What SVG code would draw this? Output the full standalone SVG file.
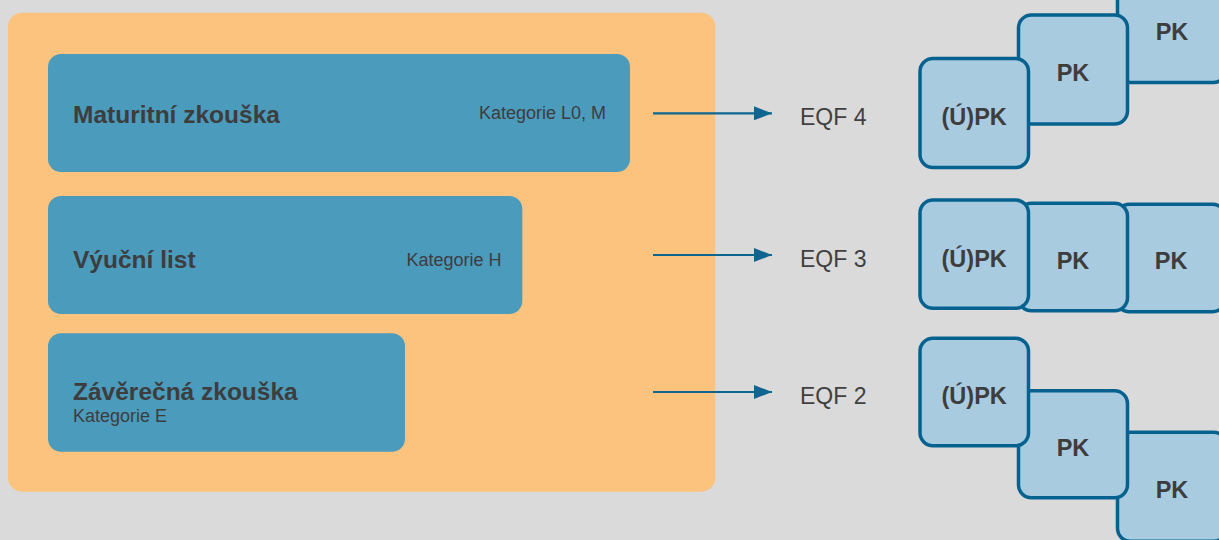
<svg xmlns="http://www.w3.org/2000/svg" width="1219" height="540" viewBox="0 0 1219 540">
<defs>
<style>
.title{font-family:"Liberation Sans",Arial,sans-serif;font-weight:bold;font-size:24.5px;fill:#3d3d3d}
.kat{font-family:"Liberation Sans",Arial,sans-serif;font-size:18px;fill:#3d3d3d}
.eqf{font-family:"Liberation Sans",Arial,sans-serif;font-size:23px;fill:#404040}
.pk{font-family:"Liberation Sans",Arial,sans-serif;font-weight:bold;font-size:23.5px;fill:#3d3d3d;text-anchor:middle}
.box{fill:#4b9bbd}
.pkbox{fill:#a9cbe0;stroke:#05628f;stroke-width:3.5}
.conn{stroke:#0d6690;stroke-width:2.2;fill:none}
</style>
<marker id="ah" viewBox="0 0 18 14" refX="18" refY="7" markerWidth="18" markerHeight="14" markerUnits="userSpaceOnUse" orient="auto">
<path d="M0,0 L18,7 L0,14 Z" fill="#0d6690"/>
</marker>
</defs>
<rect x="0" y="0" width="1219" height="540" fill="#dadada"/>
<g id="panel">
<rect x="8" y="12.7" width="707.3" height="479" rx="14" fill="#fcc37f"/>
</g>
<g id="maturitni">
<rect class="box" x="48" y="54" width="582" height="118" rx="13"/>
<text class="title" x="73" y="122.7">Maturitní zkouška</text>
<text class="kat" x="479" y="119">Kategorie L0, M</text>
</g>
<g id="vyucni">
<rect class="box" x="48" y="196" width="474.3" height="118" rx="13"/>
<text class="title" x="73" y="268.3">Výuční list</text>
<text class="kat" x="406.5" y="265.7">Kategorie H</text>
</g>
<g id="zaverecna">
<rect class="box" x="48" y="333.3" width="357" height="118.4" rx="13"/>
<text class="title" x="73" y="400">Závěrečná zkouška</text>
<text class="kat" x="73" y="422">Kategorie E</text>
</g>
<g id="connectors">
<line class="conn" x1="653" y1="113.3" x2="772" y2="113.3" marker-end="url(#ah)"/>
<line class="conn" x1="653" y1="255" x2="772" y2="255" marker-end="url(#ah)"/>
<line class="conn" x1="653" y1="392" x2="772" y2="392" marker-end="url(#ah)"/>
</g>
<g id="eqf4"><text class="eqf" x="800" y="125">EQF 4</text></g>
<g id="eqf3"><text class="eqf" x="800" y="266.7">EQF 3</text></g>
<g id="eqf2"><text class="eqf" x="800" y="403.7">EQF 2</text></g>
<g id="row1">
<g id="r1-pk3"><rect class="pkbox" x="1117.5" y="-26.5" width="109" height="109" rx="13"/><text class="pk" x="1172" y="40">PK</text></g>
<g id="r1-pk2"><rect class="pkbox" x="1018.5" y="15" width="109" height="109" rx="13"/><text class="pk" x="1073" y="81">PK</text></g>
<g id="r1-upk"><rect class="pkbox" x="920" y="58.5" width="108.5" height="109" rx="13"/><text class="pk" x="974.2" y="124.5">(Ú)PK</text></g>
</g>
<g id="row2">
<g id="r2-pk3"><rect class="pkbox" x="1116.5" y="204.3" width="109" height="107.4" rx="13"/><text class="pk" x="1171.2" y="269">PK</text></g>
<g id="r2-pk2"><rect class="pkbox" x="1018.5" y="203.3" width="109" height="107.4" rx="13"/><text class="pk" x="1073" y="269">PK</text></g>
<g id="r2-upk"><rect class="pkbox" x="920" y="200" width="108.5" height="108.3" rx="13"/><text class="pk" x="974.2" y="267.3">(Ú)PK</text></g>
</g>
<g id="row3">
<g id="r3-pk3"><rect class="pkbox" x="1117.5" y="432.3" width="109" height="109" rx="13"/><text class="pk" x="1172" y="497.5">PK</text></g>
<g id="r3-pk2"><rect class="pkbox" x="1018.5" y="390.7" width="109" height="107" rx="13"/><text class="pk" x="1073" y="456">PK</text></g>
<g id="r3-upk"><rect class="pkbox" x="920" y="338.3" width="108.5" height="107.4" rx="13"/><text class="pk" x="974.2" y="404">(Ú)PK</text></g>
</g>
</svg>
